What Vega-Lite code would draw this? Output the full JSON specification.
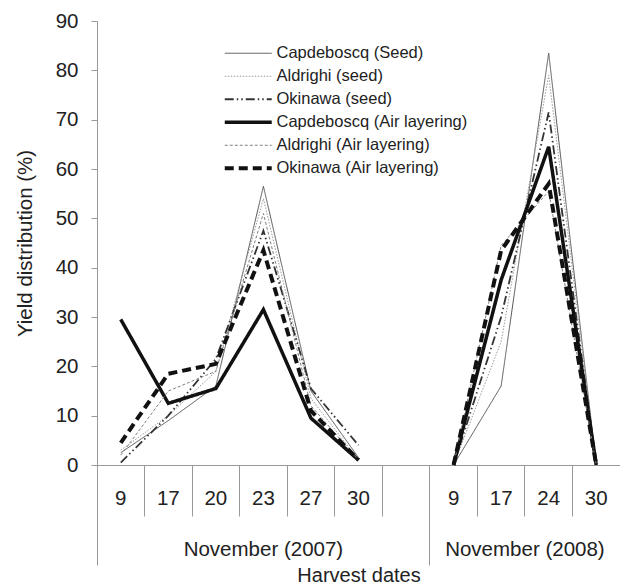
{
  "$schema": "https://vega.github.io/schema/vega-lite/v6.json",
  "width": 523,
  "height": 444,
  "autosize": {"type": "none"},
  "padding": {"left": 97, "top": 21, "right": 0, "bottom": 121},
  "background": "white",
  "config": {
    "font": "Liberation Sans",
    "view": {"stroke": null},
    "axis": {"grid": false},
    "legend": {
      "orient": "none",
      "legendX": 143,
      "legendY": 24,
      "symbolType": "M-4,0L4,0",
      "symbolSize": 138,
      "labelFontSize": 16.5,
      "labelColor": "#222",
      "labelOffset": 20,
      "rowPadding": 6,
      "padding": 0,
      "labelLimit": 400
    }
  },
  "resolve": {"axis": {"x": "independent"}},
  "datasets": {
    "rows": [
      {"series": "Capdeboscq (Seed)", "year": "2007", "date": "a9", "pct": 2.5},
      {"series": "Capdeboscq (Seed)", "year": "2007", "date": "a17", "pct": 9},
      {"series": "Capdeboscq (Seed)", "year": "2007", "date": "a20", "pct": 16},
      {"series": "Capdeboscq (Seed)", "year": "2007", "date": "a23", "pct": 56.5},
      {"series": "Capdeboscq (Seed)", "year": "2007", "date": "a27", "pct": 15},
      {"series": "Capdeboscq (Seed)", "year": "2007", "date": "a30", "pct": 1.5},
      {"series": "Capdeboscq (Seed)", "year": "2008", "date": "b9", "pct": 0},
      {"series": "Capdeboscq (Seed)", "year": "2008", "date": "b17", "pct": 16},
      {"series": "Capdeboscq (Seed)", "year": "2008", "date": "b24", "pct": 83.5},
      {"series": "Capdeboscq (Seed)", "year": "2008", "date": "b30", "pct": 0},
      {"series": "Aldrighi (seed)", "year": "2007", "date": "a9", "pct": 3},
      {"series": "Aldrighi (seed)", "year": "2007", "date": "a17", "pct": 10},
      {"series": "Aldrighi (seed)", "year": "2007", "date": "a20", "pct": 19},
      {"series": "Aldrighi (seed)", "year": "2007", "date": "a23", "pct": 54},
      {"series": "Aldrighi (seed)", "year": "2007", "date": "a27", "pct": 13.5},
      {"series": "Aldrighi (seed)", "year": "2007", "date": "a30", "pct": 1},
      {"series": "Aldrighi (seed)", "year": "2008", "date": "b9", "pct": 0},
      {"series": "Aldrighi (seed)", "year": "2008", "date": "b17", "pct": 25},
      {"series": "Aldrighi (seed)", "year": "2008", "date": "b24", "pct": 79},
      {"series": "Aldrighi (seed)", "year": "2008", "date": "b30", "pct": 0},
      {"series": "Okinawa (seed)", "year": "2007", "date": "a9", "pct": 0.5},
      {"series": "Okinawa (seed)", "year": "2007", "date": "a17", "pct": 10},
      {"series": "Okinawa (seed)", "year": "2007", "date": "a20", "pct": 21.5},
      {"series": "Okinawa (seed)", "year": "2007", "date": "a23", "pct": 47.5},
      {"series": "Okinawa (seed)", "year": "2007", "date": "a27", "pct": 15.5},
      {"series": "Okinawa (seed)", "year": "2007", "date": "a30", "pct": 4},
      {"series": "Okinawa (seed)", "year": "2008", "date": "b9", "pct": 0},
      {"series": "Okinawa (seed)", "year": "2008", "date": "b17", "pct": 30},
      {"series": "Okinawa (seed)", "year": "2008", "date": "b24", "pct": 71.5},
      {"series": "Okinawa (seed)", "year": "2008", "date": "b30", "pct": 0},
      {"series": "Capdeboscq (Air layering)", "year": "2007", "date": "a9", "pct": 29.5},
      {"series": "Capdeboscq (Air layering)", "year": "2007", "date": "a17", "pct": 12.5},
      {"series": "Capdeboscq (Air layering)", "year": "2007", "date": "a20", "pct": 15.5},
      {"series": "Capdeboscq (Air layering)", "year": "2007", "date": "a23", "pct": 31.5},
      {"series": "Capdeboscq (Air layering)", "year": "2007", "date": "a27", "pct": 9.5},
      {"series": "Capdeboscq (Air layering)", "year": "2007", "date": "a30", "pct": 1},
      {"series": "Capdeboscq (Air layering)", "year": "2008", "date": "b9", "pct": 0},
      {"series": "Capdeboscq (Air layering)", "year": "2008", "date": "b17", "pct": 37.5},
      {"series": "Capdeboscq (Air layering)", "year": "2008", "date": "b24", "pct": 64.5},
      {"series": "Capdeboscq (Air layering)", "year": "2008", "date": "b30", "pct": 0},
      {"series": "Aldrighi (Air layering)", "year": "2007", "date": "a9", "pct": 2},
      {"series": "Aldrighi (Air layering)", "year": "2007", "date": "a17", "pct": 15},
      {"series": "Aldrighi (Air layering)", "year": "2007", "date": "a20", "pct": 19},
      {"series": "Aldrighi (Air layering)", "year": "2007", "date": "a23", "pct": 51},
      {"series": "Aldrighi (Air layering)", "year": "2007", "date": "a27", "pct": 12},
      {"series": "Aldrighi (Air layering)", "year": "2007", "date": "a30", "pct": 1},
      {"series": "Aldrighi (Air layering)", "year": "2008", "date": "b9", "pct": 0},
      {"series": "Aldrighi (Air layering)", "year": "2008", "date": "b17", "pct": 44.5},
      {"series": "Aldrighi (Air layering)", "year": "2008", "date": "b24", "pct": 55.5},
      {"series": "Aldrighi (Air layering)", "year": "2008", "date": "b30", "pct": 0},
      {"series": "Okinawa (Air layering)", "year": "2007", "date": "a9", "pct": 4.5},
      {"series": "Okinawa (Air layering)", "year": "2007", "date": "a17", "pct": 18.5},
      {"series": "Okinawa (Air layering)", "year": "2007", "date": "a20", "pct": 20.5},
      {"series": "Okinawa (Air layering)", "year": "2007", "date": "a23", "pct": 43.5},
      {"series": "Okinawa (Air layering)", "year": "2007", "date": "a27", "pct": 11},
      {"series": "Okinawa (Air layering)", "year": "2007", "date": "a30", "pct": 1},
      {"series": "Okinawa (Air layering)", "year": "2008", "date": "b9", "pct": 0},
      {"series": "Okinawa (Air layering)", "year": "2008", "date": "b17", "pct": 43.5},
      {"series": "Okinawa (Air layering)", "year": "2008", "date": "b24", "pct": 57},
      {"series": "Okinawa (Air layering)", "year": "2008", "date": "b30", "pct": 0}
    ],
    "groups": [
      {"label": "November (2007)", "date": "a23"},
      {"label": "November (2008)", "date": "b24"}
    ]
  },
  "layer": [
    {
      "data": {"name": "rows"},
      "mark": {"type": "line", "strokeJoin": "miter"},
      "encoding": {
        "x": {
          "field": "date",
          "type": "nominal",
          "scale": {"type": "band", "domain": ["a9", "a17", "a20", "a23", "a27", "a30", "gap", "b9", "b17", "b24", "b30"], "paddingInner": 0, "paddingOuter": 0},
          "axis": {
            "orient": "bottom",
            "title": null,
            "labelExpr": "datum.value == 'gap' ? '' : slice(datum.value, 1)",
            "labelFontSize": 20.5,
            "labelColor": "#222",
            "labelAngle": 0,
            "labelBaseline": "middle",
            "labelPadding": -18,
            "bandPosition": 0,
            "tickSize": 51,
            "tickColor": "#999",
            "domainColor": "#999"
          }
        },
        "y": {
          "field": "pct",
          "type": "quantitative",
          "scale": {"domain": [0, 90]},
          "axis": {
            "values": [0, 10, 20, 30, 40, 50, 60, 70, 80, 90],
            "title": "Yield distribution (%)",
            "titleFontSize": 20.5,
            "titleFontWeight": "normal",
            "titleColor": "#222",
            "titlePadding": 20,
            "labelFontSize": 20.5,
            "labelColor": "#222",
            "labelPadding": 13,
            "tickSize": 6,
            "tickColor": "#999",
            "domainColor": "#999"
          }
        },
        "detail": {"field": "year", "type": "nominal"},
        "color": {
          "field": "series",
          "type": "nominal",
          "scale": {
            "domain": ["Capdeboscq (Seed)", "Aldrighi (seed)", "Okinawa (seed)", "Capdeboscq (Air layering)", "Aldrighi (Air layering)", "Okinawa (Air layering)"],
            "range": ["#555555", "#9a9a9a", "#333333", "#111111", "#808080", "#111111"]
          },
          "legend": {
            "title": null,
            "encode": {"symbols": {"update": {"strokeWidth": {"signal": "datum.value == 'Capdeboscq (Air layering)' ? 3.5 : datum.value == 'Okinawa (Air layering)' ? 4 : datum.value == 'Okinawa (seed)' ? 1.8 : 1"}}}}
          }
        },
        "strokeDash": {
          "field": "series",
          "type": "nominal",
          "scale": {
            "domain": ["Capdeboscq (Seed)", "Aldrighi (seed)", "Okinawa (seed)", "Capdeboscq (Air layering)", "Aldrighi (Air layering)", "Okinawa (Air layering)"],
            "range": [[1, 0], [1.5, 1.5], [9, 3, 1.5, 3, 1.5, 3], [1, 0], [3, 2], [9, 5]]
          },
          "legend": {
            "title": null,
            "encode": {"symbols": {"update": {"strokeWidth": {"signal": "datum.value == 'Capdeboscq (Air layering)' ? 3.5 : datum.value == 'Okinawa (Air layering)' ? 4 : datum.value == 'Okinawa (seed)' ? 1.8 : 1"}}}}
          }
        },
        "strokeWidth": {
          "condition": [
            {"test": "datum.series == 'Capdeboscq (Air layering)'", "value": 3.5},
            {"test": "datum.series == 'Okinawa (Air layering)'", "value": 4},
            {"test": "datum.series == 'Okinawa (seed)'", "value": 1.8}
          ],
          "value": 1
        }
      }
    },
    {
      "data": {"name": "groups"},
      "transform": [{"filter": "datum.date == 'a23'"}],
      "mark": {"type": "text", "dy": 85, "fontSize": 20.5, "baseline": "middle", "align": "center", "color": "#222"},
      "encoding": {
        "x": {
          "field": "date",
          "type": "nominal",
          "scale": {"type": "band", "domain": ["a9", "a17", "a20", "a23", "a27", "a30", "gap", "b9", "b17", "b24", "b30"], "paddingInner": 0, "paddingOuter": 0},
          "axis": {
            "orient": "bottom",
            "values": ["a9", "b9"],
            "bandPosition": 0,
            "tickSize": 100,
            "tickColor": "#999",
            "labels": false,
            "domain": false,
            "title": "Harvest dates",
            "titleFontSize": 20,
            "titleFontWeight": "normal",
            "titleColor": "#222",
            "titlePadding": 0
          }
        },
        "y": {"datum": 0},
        "text": {"field": "label"}
      }
    },
    {
      "data": {"name": "groups"},
      "transform": [{"filter": "datum.date == 'b24'"}],
      "mark": {"type": "text", "dy": 85, "fontSize": 20.5, "baseline": "middle", "align": "center", "color": "#222"},
      "encoding": {
        "x": {"field": "date", "type": "nominal", "bandPosition": 0, "scale": {"type": "band", "domain": ["a9", "a17", "a20", "a23", "a27", "a30", "gap", "b9", "b17", "b24", "b30"], "paddingInner": 0, "paddingOuter": 0}, "axis": null},
        "y": {"datum": 0},
        "text": {"field": "label"}
      }
    }
  ]
}
